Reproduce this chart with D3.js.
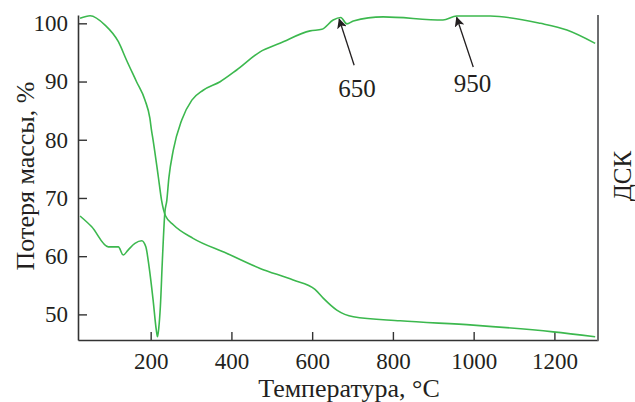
<!DOCTYPE html>
<html>
<head>
<meta charset="utf-8">
<script src="https://cdn.jsdelivr.net/npm/d3@7"></script>
<style>
  body { margin: 0; background: #fff; }
  text { font-family: "Liberation Serif", "Times New Roman", serif; fill: #231f20; }
</style>
</head>
<body>
<svg id="chart" width="635" height="402"></svg>
<script>
// TG curve (mass loss, %)
const tgTemp = [25, 50, 87, 120, 140, 165, 186, 198, 202, 206, 219, 227, 237, 256, 305, 388, 471, 553, 607, 628, 661, 702, 818, 999, 1197, 1301];
const tgMass = [100.86, 101.3, 99.7, 96.84, 93.7, 89.97, 86.8, 83.7, 81.67, 79.95, 73.6, 69.6, 66.9, 65.4, 63.06, 60.5, 57.9, 55.9, 54.3, 52.75, 50.74, 49.6, 48.9, 48.16, 47.0, 46.15];

// DSC curve (drawn on the same scale)
const dscTemp = [25, 54, 95, 120, 132, 144, 161, 178, 188, 196, 206, 214, 217, 220, 224, 229, 235, 240, 245, 256, 277, 302, 330, 372, 413, 471, 520, 595, 624, 652, 671, 686, 702, 776, 924, 958, 1041, 1165, 1231, 1301];
const dscVal = [66.9, 65.05, 61.6, 61.6, 60.2, 61.05, 62.2, 62.65, 61.6, 58.2, 52.5, 47.3, 46.15, 47.6, 51.3, 59.3, 67.4, 69.6, 73.4, 78.2, 83.4, 86.8, 88.5, 89.97, 91.98, 95.1, 96.56, 98.7, 98.97, 100.57, 101.0, 99.9, 100.4, 101.1, 100.57, 101.25, 101.25, 100.0, 98.85, 96.56];

const xTicks = [200, 400, 600, 800, 1000, 1200];
const yTicks = [50, 60, 70, 80, 90, 100];

// peak labels with arrows, in data units (T, value)
const peakLabels = ["650", "950"];
const peakTip = [[667, 100.7], [958, 101.0]];
const peakTail = [[704, 92.8], [999, 92.5]];
const peakText = [[711, 87.4], [997, 88.25]];

const green = "#3cb84e";
const axisCol = "#333";

const svg = d3.select("#chart");
const mLeft = 78, mRight = 598, mTop = 15, mBottom = 340;

const x = d3.scaleLinear().domain([20, 1308]).range([mLeft, mRight]);
const y = d3.scaleLinear().domain([45.6, 101.43]).range([mBottom, mTop]);

svg.append("defs").append("marker")
  .attr("id", "arrow")
  .attr("viewBox", "0 0 10 10")
  .attr("refX", 9)
  .attr("refY", 5)
  .attr("markerWidth", 10)
  .attr("markerHeight", 10)
  .attr("markerUnits", "userSpaceOnUse")
  .attr("orient", "auto")
  .append("path")
  .attr("d", "M0,0 L10,5 L0,10 L2.5,5 Z")
  .attr("fill", "#231f20");

// axes
const xAxis = d3.axisBottom(x).tickValues(xTicks).tickFormat(d3.format("d"))
  .tickSizeInner(-8).tickSizeOuter(0).tickPadding(13);
const gx = svg.append("g")
  .attr("transform", "translate(0," + mBottom + ")")
  .call(xAxis);
gx.select(".domain").attr("stroke", axisCol).attr("stroke-width", 1.6);
gx.selectAll(".tick line").attr("stroke", axisCol).attr("stroke-width", 1.4);
gx.selectAll(".tick text")
  .attr("fill", "#231f20")
  .style("font-family", "Liberation Serif, serif")
  .style("font-size", "23px");

const yAxis = d3.axisLeft(y).tickValues(yTicks)
  .tickSizeInner(-9).tickSizeOuter(0).tickPadding(10);
const gy = svg.append("g")
  .attr("transform", "translate(" + mLeft + ",0)")
  .call(yAxis);
gy.select(".domain").attr("stroke", axisCol).attr("stroke-width", 1.6);
gy.selectAll(".tick line").attr("stroke", axisCol).attr("stroke-width", 1.4);
gy.selectAll(".tick text")
  .attr("fill", "#231f20")
  .style("font-family", "Liberation Serif, serif")
  .style("font-size", "23px");

// right DSC axis (no ticks)
svg.append("line")
  .attr("x1", mRight).attr("x2", mRight)
  .attr("y1", mTop).attr("y2", mBottom + 0.8)
  .attr("stroke", "#6d6e70")
  .attr("stroke-width", 2);

// curves
const line = d3.line()
  .x(d => x(d[0]))
  .y(d => y(d[1]))
  .curve(d3.curveMonotoneX);

svg.append("path")
  .datum(tgTemp.map((t, i) => [t, tgMass[i]]))
  .attr("d", line)
  .attr("fill", "none")
  .attr("stroke", green)
  .attr("stroke-width", 1.6);

svg.append("path")
  .datum(dscTemp.map((t, i) => [t, dscVal[i]]))
  .attr("d", line)
  .attr("fill", "none")
  .attr("stroke", green)
  .attr("stroke-width", 1.6);

// peak annotations
peakLabels.forEach(function(lbl, i) {
  svg.append("line")
    .attr("x1", x(peakTail[i][0])).attr("y1", y(peakTail[i][1]))
    .attr("x2", x(peakTip[i][0])).attr("y2", y(peakTip[i][1]))
    .attr("stroke", "#231f20")
    .attr("stroke-width", 1.3)
    .attr("marker-end", "url(#arrow)");
  svg.append("text")
    .attr("x", x(peakText[i][0]))
    .attr("y", y(peakText[i][1]))
    .attr("text-anchor", "middle")
    .style("font-size", "25px")
    .text(lbl);
});

// titles
svg.append("text")
  .attr("x", 349)
  .attr("y", 397)
  .attr("text-anchor", "middle")
  .style("font-size", "26px")
  .text("Температура, °C");

svg.append("text")
  .attr("transform", "translate(34,176) rotate(-90)")
  .attr("text-anchor", "middle")
  .style("font-size", "26px")
  .text("Потеря массы, %");

svg.append("text")
  .attr("transform", "translate(631,176) rotate(-90)")
  .attr("text-anchor", "middle")
  .style("font-size", "25px")
  .text("ДСК");
</script>
</body>
</html>
